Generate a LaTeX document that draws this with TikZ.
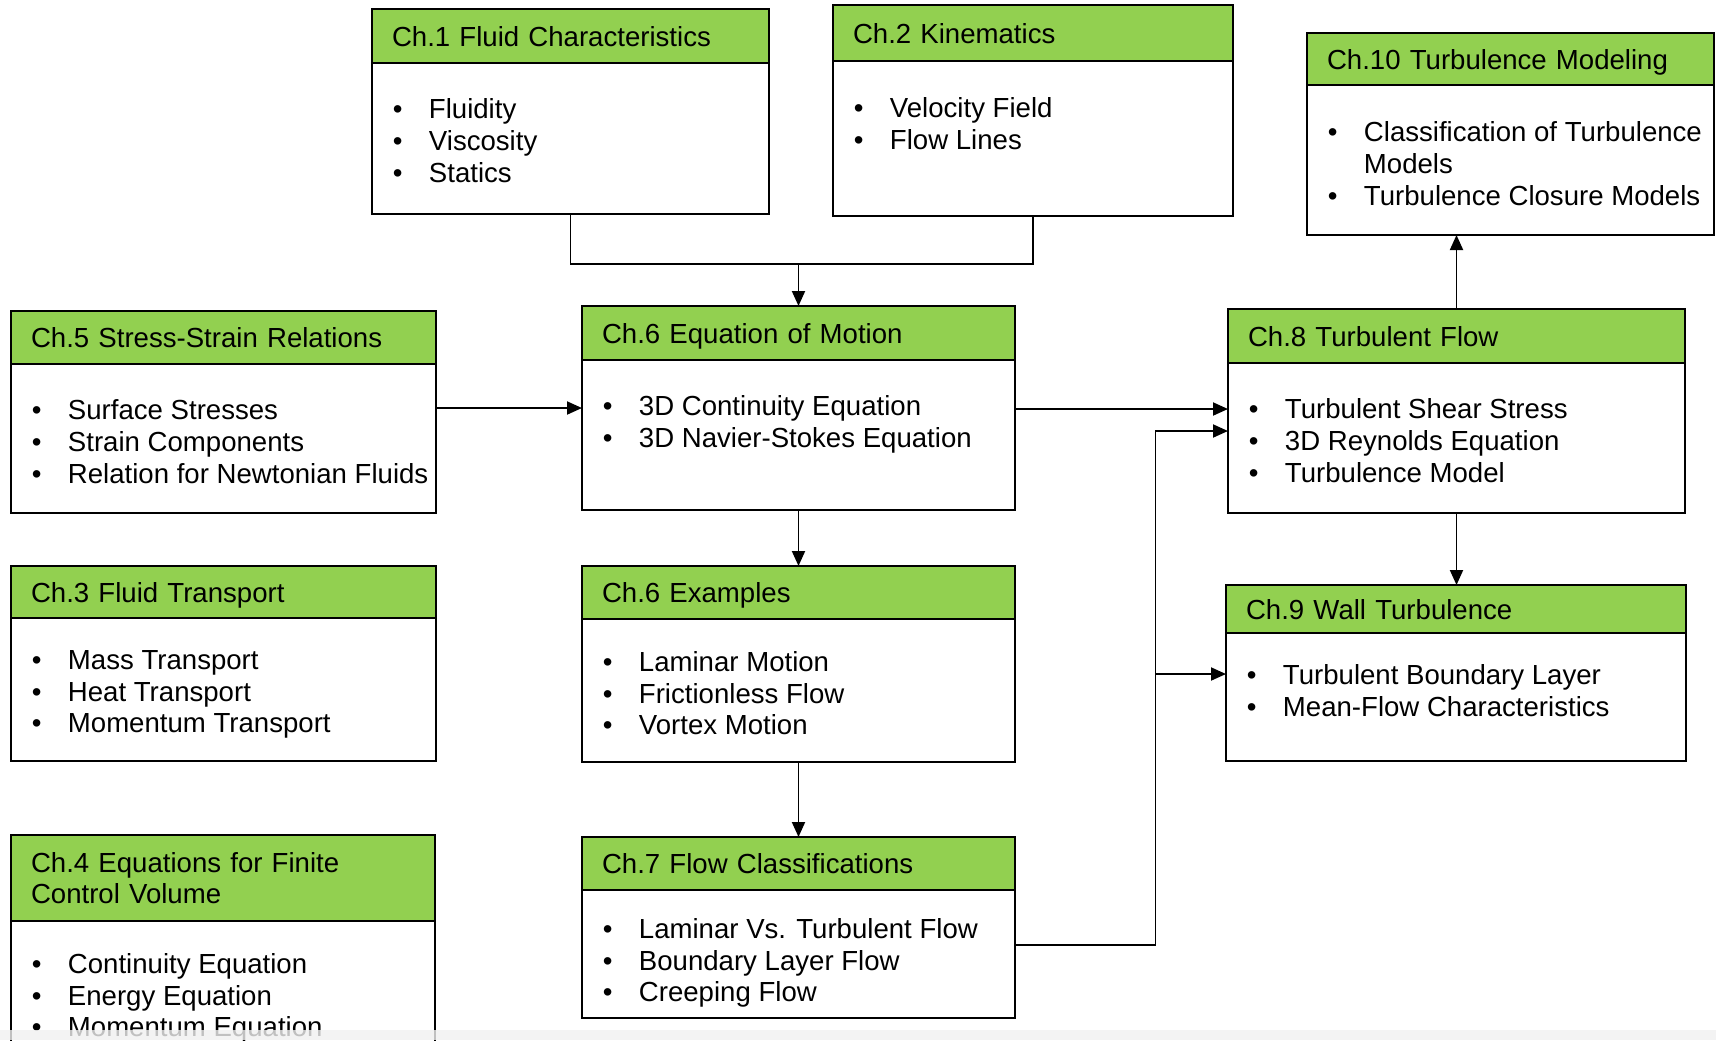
\documentclass[tikz,border=0pt]{standalone}
\usepackage{fontspec}
\setmainfont{Liberation Sans}
\usetikzlibrary{positioning,arrows.meta}
\definecolor{chgreen}{RGB}{146,208,80}
\newcommand{\bul}{\makebox[0.72cm][l]{\textbullet}}

\begin{document}
\begin{tikzpicture}[
       line width=1.1pt,
       head/.style={
         draw,
         fill=chgreen,
         anchor=north west,
         outer sep=0pt,
         inner xsep=0.4cm,
         inner ysep=0pt,
         text depth=0pt,
         align=left,
         font=\fontsize{15.7}{18}\selectfont
       },
       body/.style={
         draw,
         outer sep=0pt,
         inner sep=0pt
       },
       items/.style={
         anchor=north west,
         inner sep=0pt,
         align=left,
         font=\fontsize{15.7}{18}\selectfont
       },
       arr/.style={-{Triangle[length=0.3cm,width=0.26cm]}}
     ]

       \useasboundingbox (0,0) rectangle (34.32,-20.8);

       % top row
       \node (c1h) at (7.44,-0.18) [head,text width=7.14cm,minimum height=1.08cm]{Ch.1 Fluid Characteristics};
       \node (c1) [body,below=0pt of c1h,minimum width=7.94cm,minimum height=3.02cm]{};
       \node (c1l) at ([xshift=0.4cm,yshift=-0.7cm]c1h.south west) [items]{\bul Fluidity\\ \bul Viscosity\\ \bul Statics};

       \node (c2h) at (16.66,-0.10) [head,text width=7.2cm,minimum height=1.12cm]{Ch.2 Kinematics};
       \node (c2) [body,below=0pt of c2h,minimum width=8cm,minimum height=3.1cm]{};
       \node (c2l) at ([xshift=0.4cm,yshift=-0.72cm]c2h.south west) [items]{\bul Velocity Field\\ \bul Flow Lines};

       \node (c10h) at (26.14,-0.66) [head,text width=7.34cm,minimum height=1.04cm]{Ch.10 Turbulence Modeling};
       \node (c10) [body,below=0pt of c10h,minimum width=8.14cm,minimum height=3cm]{};
       \node (c10l) at ([xshift=0.4cm,yshift=-0.72cm]c10h.south west) [items]{\bul Classification of Turbulence\\ \hspace*{0.72cm}Models\\ \bul Turbulence Closure Models};

       % second row
       \node (c5h) at (0.22,-6.22) [head,text width=7.7cm,minimum height=1.06cm]{Ch.5 Stress-Strain Relations};
       \node (c5) [body,below=0pt of c5h,minimum width=8.5cm,minimum height=2.98cm]{};
       \node (c5l) at ([xshift=0.4cm,yshift=-0.7cm]c5h.south west) [items]{\bul Surface Stresses\\ \bul Strain Components\\ \bul Relation for Newtonian Fluids};

       \node (c6h) at (11.64,-6.12) [head,text width=7.86cm,minimum height=1.08cm]{Ch.6 Equation of Motion};
       \node (c6) [body,below=0pt of c6h,minimum width=8.66cm,minimum height=3cm]{};
       \node (c6l) at ([xshift=0.4cm,yshift=-0.7cm]c6h.south west) [items]{\bul 3D Continuity Equation\\ \bul 3D Navier-Stokes Equation};

       \node (c8h) at (24.56,-6.18) [head,text width=8.34cm,minimum height=1.08cm]{Ch.8 Turbulent Flow};
       \node (c8) [body,below=0pt of c8h,minimum width=9.14cm,minimum height=3cm]{};
       \node (c8l) at ([xshift=0.4cm,yshift=-0.7cm]c8h.south west) [items]{\bul Turbulent Shear Stress\\ \bul 3D Reynolds Equation\\ \bul Turbulence Model};

       % third row
       \node (c3h) at (0.22,-11.32) [head,text width=7.7cm,minimum height=1.04cm]{Ch.3 Fluid Transport};
       \node (c3) [body,below=0pt of c3h,minimum width=8.5cm,minimum height=2.86cm]{};
       \node (c3l) at ([xshift=0.4cm,yshift=-0.63cm]c3h.south west) [items]{\bul Mass Transport\\ \bul Heat Transport\\ \bul Momentum Transport};

       \node (c6xh) at (11.64,-11.32) [head,text width=7.86cm,minimum height=1.06cm]{Ch.6 Examples};
       \node (c6x) [body,below=0pt of c6xh,minimum width=8.66cm,minimum height=2.86cm]{};
       \node (c6xl) at ([xshift=0.4cm,yshift=-0.63cm]c6xh.south west) [items]{\bul Laminar Motion\\ \bul Frictionless Flow\\ \bul Vortex Motion};

       \node (c9h) at (24.52,-11.7) [head,text width=8.4cm,minimum height=0.96cm]{Ch.9 Wall Turbulence};
       \node (c9) [body,below=0pt of c9h,minimum width=9.2cm,minimum height=2.56cm]{};
       \node (c9l) at ([xshift=0.4cm,yshift=-0.61cm]c9h.south west) [items]{\bul Turbulent Boundary Layer\\ \bul Mean-Flow Characteristics};

       % bottom row
       \node (c4h) at (0.22,-16.7) [head,text depth=18pt,text width=7.68cm,minimum height=1.72cm]{Ch.4 Equations for Finite\\Control Volume};
       \node (c4) [body,below=0pt of c4h,minimum width=8.48cm,minimum height=3.2cm]{};
       \node (c4l) at ([xshift=0.4cm,yshift=-0.63cm]c4h.south west) [items]{\bul Continuity Equation\\ \bul Energy Equation\\ \bul Momentum Equation};

       \node (c7h) at (11.64,-16.74) [head,text width=7.86cm,minimum height=1.06cm]{Ch.7 Flow Classifications};
       \node (c7) [body,below=0pt of c7h,minimum width=8.66cm,minimum height=2.56cm]{};
       \node (c7l) at ([xshift=0.4cm,yshift=-0.55cm]c7h.south west) [items]{\bul Laminar Vs. Turbulent Flow\\ \bul Boundary Layer Flow\\ \bul Creeping Flow};

       % connectors
       \coordinate (join) at (c6h.north |- 0,-5.28);
       \coordinate (bend) at (23.11,-8.62);

       \draw (c1.south) |- (join) -| (c2.south);
       \draw[arr] (join) -- (c6h.north);
       \draw[arr] (c5.east |- 0,-8.16) -- (c6.west |- 0,-8.16);
       \draw[arr] (c6.east |- 0,-8.18) -- (c8.west |- 0,-8.18);
       \draw[arr] (c6.south) -- (c6xh.north);
       \draw[arr] (c6x.south) -- (c7h.north);
       \draw[arr] (c7.east |- 0,-18.9) -| (bend) -- (bend -| c8.west);
       \draw[arr] (bend |- 0,-13.48) -- (c9.west |- 0,-13.48);
       \draw[arr] (c8h.north) -- (c8h.north |- c10.south);
       \draw[arr] (c8.south) -- (c8.south |- c9h.north);

       \fill[black!6,opacity=0.8] (0,-20.6) rectangle (34.32,-20.8);

\end{tikzpicture}
\end{document}
